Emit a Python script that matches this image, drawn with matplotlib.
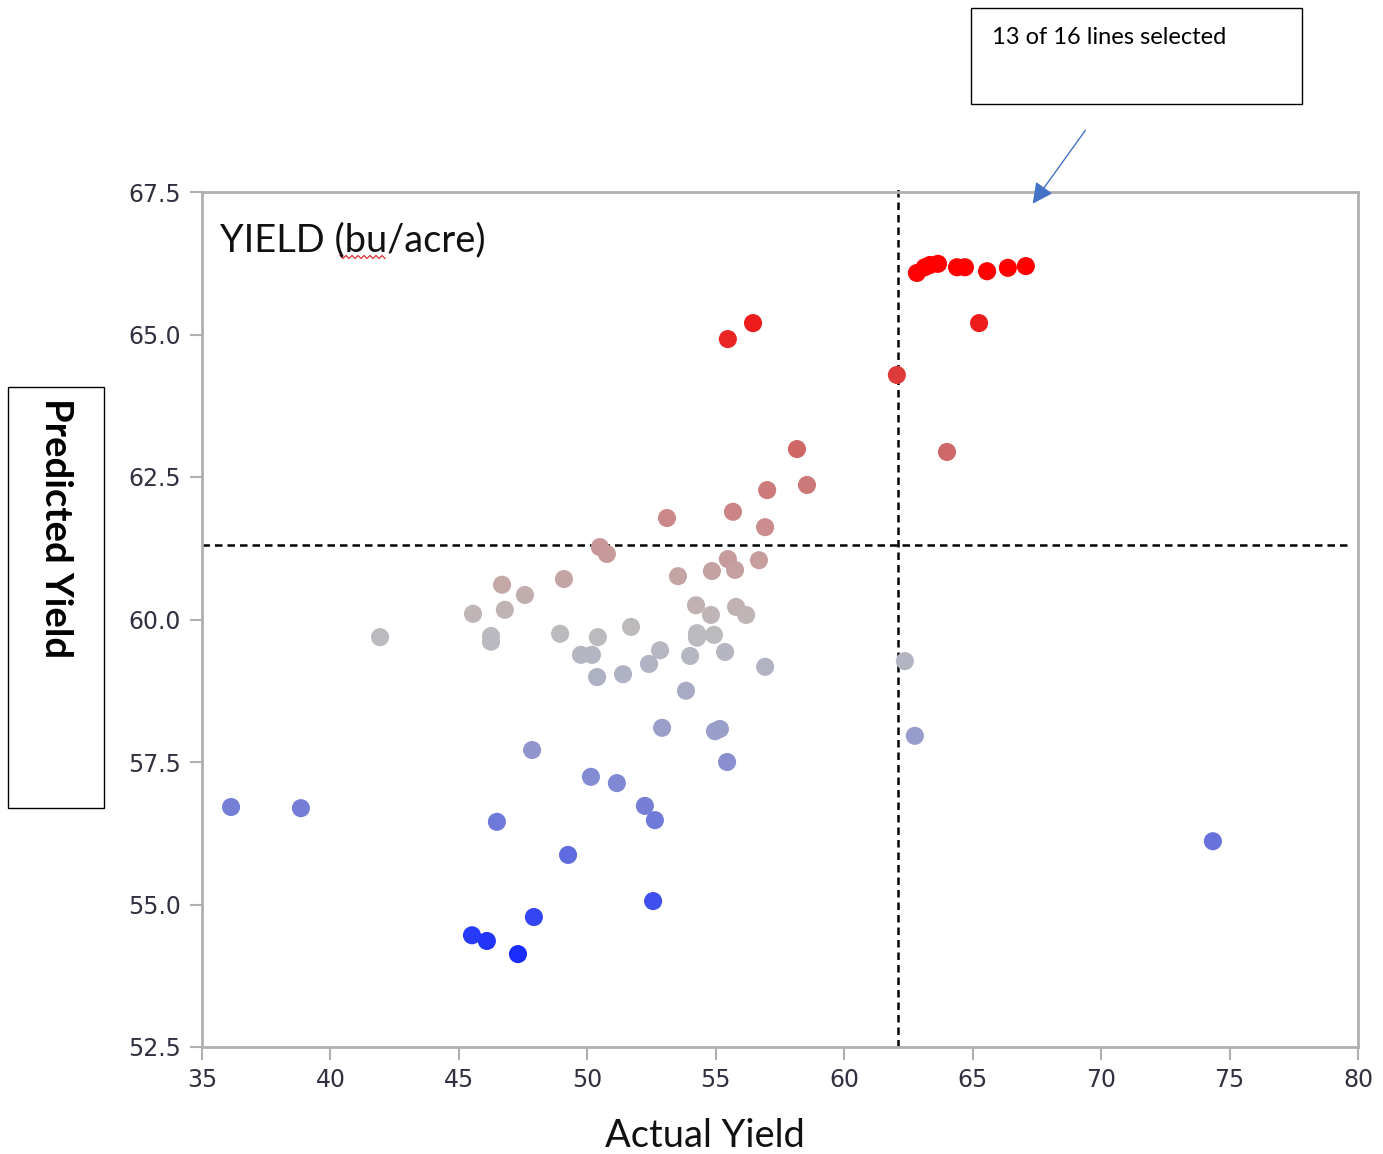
import numpy as np
import matplotlib
matplotlib.use("Agg")
import matplotlib.pyplot as plt
from matplotlib.colors import LinearSegmentedColormap, Normalize
from matplotlib.patches import Rectangle, FancyArrowPatch

# ---- data ----
actual = [62.83, 63.14, 63.34, 63.65, 64.39, 64.70, 65.56, 66.37, 67.07,
          65.25, 62.05, 55.47, 56.45,
          58.16, 64.00, 57.00, 58.55, 53.10, 55.67, 56.92, 50.49, 50.76,
          55.47, 56.68, 54.85, 55.75, 53.53, 46.68, 49.09, 47.57, 45.55,
          46.79, 41.93, 46.25, 46.25, 48.94, 50.41, 51.70, 49.75, 50.18,
          50.38, 51.39, 52.40, 52.83, 54.00, 53.84, 54.23, 54.81, 54.27,
          54.27, 54.93, 55.79, 56.18, 55.36, 56.92, 62.36, 62.75, 52.91,
          54.97, 55.16, 55.44, 47.85, 50.14, 51.15, 52.24, 52.63, 36.13,
          38.85, 46.48, 49.25, 74.35, 52.56, 47.92, 45.51, 46.09, 47.30]
predicted = [66.08, 66.18, 66.22, 66.24, 66.18, 66.18, 66.11, 66.17, 66.20,
             65.20, 64.29, 64.92, 65.20,
             62.99, 62.94, 62.27, 62.36, 61.78, 61.89, 61.62, 61.27, 61.15,
             61.06, 61.04, 60.85, 60.87, 60.76, 60.61, 60.71, 60.43, 60.10,
             60.17, 59.69, 59.71, 59.61, 59.75, 59.69, 59.87, 59.38, 59.38,
             58.99, 59.04, 59.22, 59.46, 59.36, 58.75, 60.25, 60.08, 59.76,
             59.68, 59.73, 60.22, 60.08, 59.43, 59.17, 59.27, 57.96, 58.10,
             58.04, 58.08, 57.50, 57.71, 57.24, 57.13, 56.73, 56.48, 56.71,
             56.69, 56.45, 55.87, 56.11, 55.06, 54.78, 54.46, 54.36, 54.13]
x_ref = 62.1
y_ref = 61.31
x_ticks = [35, 40, 45, 50, 55, 60, 65, 70, 75, 80]
y_ticks = [52.5, 55.0, 57.5, 60.0, 62.5, 65.0, 67.5]

# colour scale anchors (value -> colour)
c_vals = [54.1, 55.0, 56.0, 57.0, 58.0, 59.0, 59.8, 60.4, 61.2, 62.2, 63.0, 64.3, 65.2, 66.2]
c_cols = ["#1a2cff", "#3d4ef0", "#6570dc", "#7d85d4", "#989dca", "#aeb0c4", "#bcbcbe",
          "#c2adad", "#c89898", "#cc7c7c", "#cf6868", "#de3a3a", "#ee1c1c", "#ff0000"]

W, H, DPI = 1383, 1154, 100
fig = plt.figure(figsize=(W / DPI, H / DPI), dpi=DPI)
fig.patch.set_facecolor("white")

def px_x(p):
    return p / W

def px_y(p):
    return 1 - p / H

ax = fig.add_axes([px_x(202), px_y(1047), (1358 - 202) / W, (1047 - 192) / H])
ax.set_xlim(35, 80)
ax.set_ylim(52.5, 67.5)

pos = [(v - c_vals[0]) / (c_vals[-1] - c_vals[0]) for v in c_vals]
cmap = LinearSegmentedColormap.from_list("yld", list(zip(pos, c_cols)))
norm = Normalize(vmin=c_vals[0], vmax=c_vals[-1])

ax.scatter(actual, predicted, c=predicted, cmap=cmap, norm=norm, s=170,
           edgecolors="none", zorder=3)

# reference dashed lines
ax.plot([x_ref, x_ref], [52.5, 67.62], ls=(0, (3.0, 2.0)), color="black", lw=1.8,
        clip_on=False, zorder=2)
ax.plot([35, 79.76], [y_ref, y_ref], ls=(0, (3.0, 2.0)), color="black", lw=1.8,
        zorder=2)

for s in ax.spines.values():
    s.set_color("#b0b0b0")
    s.set_linewidth(2)

ax.set_xticks(x_ticks)
ax.set_xticklabels([str(t) for t in x_ticks], family="DejaVu Sans")
ax.set_yticks(y_ticks)
ax.set_yticklabels(["%.1f" % t for t in y_ticks], family="DejaVu Sans")
ax.tick_params(axis="both", colors="#b0b0b0", width=1.5, length=9, labelsize=17,
               labelcolor="#303040", pad=6)

renderer = fig.canvas.get_renderer()

def fit(t, target_w, horizontal=True):
    bb = t.get_window_extent(renderer)
    w = bb.width if horizontal else bb.height
    t.set_fontsize(t.get_fontsize() * target_w / w)

# in-plot title
t1 = fig.text(px_x(220), px_y(251), "YIELD (bu/acre)", fontsize=24, family="Lato",
              color="#111111", va="baseline", ha="left")
fit(t1, 266)

# red spell-check squiggle under "bu"
zx = np.linspace(340, 385, 16)
zy = 257 + np.where(np.arange(16) % 2 == 0, -1.5, 1.5)
fig.add_artist(plt.Line2D(px_x(zx), px_y(zy), color="#e03030", lw=0.9))

# x label
t2 = fig.text(px_x(705), px_y(1147), "Actual Yield", fontsize=26, family="Lato",
              color="#111111", ha="center", va="baseline")
fit(t2, 200)

# y label in box
fig.add_artist(Rectangle((px_x(8), px_y(808)), (104 - 8) / W, (808 - 387) / H,
                         transform=fig.transFigure, fill=False, edgecolor="black", lw=1))
t3 = fig.text(px_x(56), px_y(398), "Predicted Yield", fontsize=26, family="Lato",
              weight="bold", color="black", rotation=-90, ha="center", va="top")
fit(t3, 260, horizontal=False)

# annotation box
fig.add_artist(Rectangle((px_x(971), px_y(104)), (1302 - 971) / W, (104 - 8) / H,
                         transform=fig.transFigure, fill=False, edgecolor="black", lw=1))
t4 = fig.text(px_x(992), px_y(44), "13 of 16 lines selected", fontsize=17,
              family="Lato", color="black", ha="left", va="baseline")
fit(t4, 234)

arrow = FancyArrowPatch((px_x(1087), px_y(128)), (px_x(1031), px_y(206)),
                        transform=fig.transFigure, arrowstyle="-|>,head_length=0.9,head_width=0.45",
                        mutation_scale=14, color="#4472c4", lw=1)
fig.add_artist(arrow)

fig.savefig("out.png", dpi=DPI)
